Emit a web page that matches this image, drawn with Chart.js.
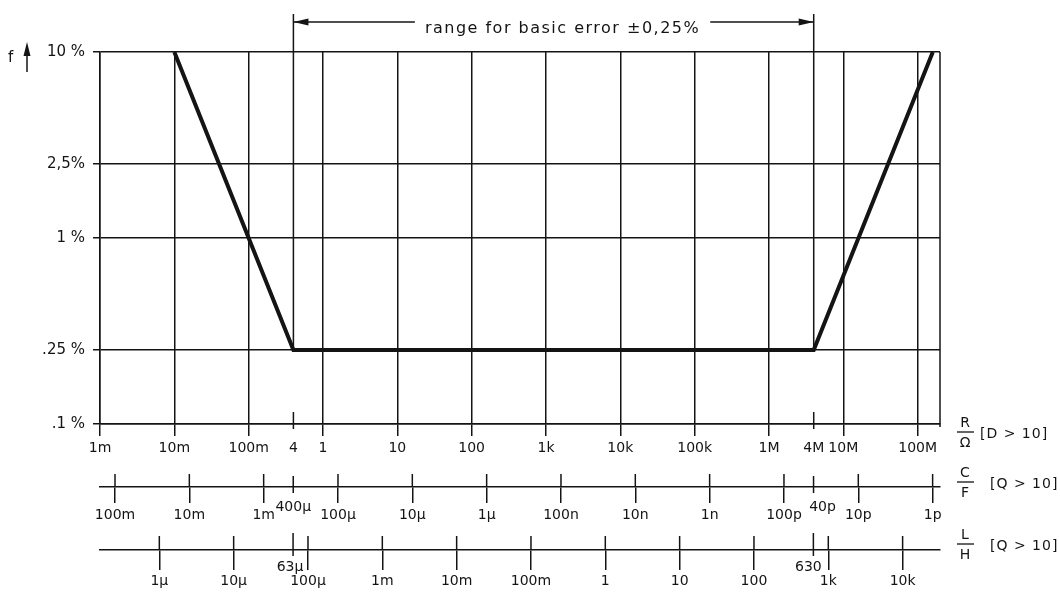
<!DOCTYPE html>
<html>
<head>
<meta charset="utf-8">
<script src="https://cdn.jsdelivr.net/npm/chart.js@4.4.1/dist/chart.umd.min.js"></script>
<style>
html,body{margin:0;padding:0;background:#fff;}
canvas{display:block;}
</style>
</head>
<body>
<canvas id="c" width="1060" height="592"></canvas>
<script>
// ---------- data ----------
const rTicks  = [1e-3, 1e-2, 1e-1, 0.4, 1, 10, 100, 1e3, 1e4, 1e5, 1e6, 4e6, 1e7, 1e8];
const rLabels = ['1m','10m','100m','4','1','10','100','1k','10k','100k','1M','4M','10M','100M'];
const cTicks  = [1e-1, 1e-2, 1e-3, 4e-4, 1e-4, 1e-5, 1e-6, 1e-7, 1e-8, 1e-9, 1e-10, 4e-11, 1e-11, 1e-12];
const cLabels = ['100m','10m','1m','400µ','100µ','10µ','1µ','100n','10n','1n','100p','40p','10p','1p'];
const lTicks  = [1e-6, 1e-5, 6.3e-5, 1e-4, 1e-3, 1e-2, 1e-1, 1, 10, 100, 630, 1e3, 1e4];
const lLabels = ['1µ','10µ','63µ','100µ','1m','10m','100m','1','10','100','630','1k','10k'];
const fTicks  = [10, 2.5, 1, 0.25, 0.1];
const fLabels = ['10 %','2,5%','1 %','.25 %','.1 %'];
const curveR  = [0.01, 0.4, 4e6, 1.6e8];
const curveF  = [10, 0.25, 0.25, 10];
const rangeR  = [0.4, 4e6];
const basicError = 0.25;
const rRange  = [1e-3, 2e8];
const fRange  = [0.1, 10];
const measFreqHz = 1000;
const title = 'range for basic error \u00B10,25%';
const axisUnits = [['R','\u03A9','[D > 10]'], ['C','F','[Q > 10]'], ['L','H','[Q > 10]']];

// ---------- style ----------
const INK = '#141414';
const FONT = '"DejaVu Sans", "Liberation Sans", sans-serif';
const omega = 2 * Math.PI * measFreqHz;
const isDecade = v => Math.abs(Math.log10(v) - Math.round(Math.log10(v))) < 1e-9;
const fixedTicks = values => scale => { scale.ticks = values.map(v => ({ value: v })); };
const decadeColor = ctx => (ctx.tick && isDecade(ctx.tick.value)) ? INK : 'rgba(0,0,0,0)';
const raisedDx = { '400µ': 0, '40p': 9, '63µ': -3, '630': -5 };

const overlay = {
  id: 'overlay',
  afterDraw(chart) {
    const ctx = chart.ctx, a = chart.chartArea;
    const sx = chart.scales.x, sy = chart.scales.y, sc = chart.scales.xC, sl = chart.scales.xL;
    ctx.save();
    ctx.strokeStyle = INK; ctx.fillStyle = INK; ctx.lineWidth = 1.5;
    const line = (x1, y1, x2, y2) => { ctx.beginPath(); ctx.moveTo(x1, y1); ctx.lineTo(x2, y2); ctx.stroke(); };
    const tri = (p) => { ctx.beginPath(); ctx.moveTo(p[0][0], p[0][1]); ctx.lineTo(p[1][0], p[1][1]); ctx.lineTo(p[2][0], p[2][1]); ctx.closePath(); ctx.fill(); };

    // right frame
    line(a.right, a.top, a.right, a.bottom + 3);

    // short ticks on R axis
    rTicks.filter(v => !isDecade(v)).forEach(v => {
      const x = sx.getPixelForValue(v);
      line(x, a.bottom - 12, x, a.bottom + 5);
    });

    // range boundaries + arrow
    const yKnee = sy.getPixelForValue(basicError);
    const xs = rangeR.map(v => sx.getPixelForValue(v));
    xs.forEach(x => line(x, 14, x, yKnee));
    const ay = 22;
    ctx.font = '16px ' + FONT;
    ctx.letterSpacing = '1.5px';
    const w = ctx.measureText(title).width;
    const cx = (xs[0] + xs[1]) / 2 + 9;
    const tl = cx - w / 2, tr = cx + w / 2;
    line(xs[0], ay, tl - 10, ay);
    line(tr + 10, ay, xs[1], ay);
    tri([[xs[0], ay], [xs[0] + 15, ay - 3.5], [xs[0] + 15, ay + 3.5]]);
    tri([[xs[1], ay], [xs[1] - 15, ay - 3.5], [xs[1] - 15, ay + 3.5]]);
    ctx.textAlign = 'left'; ctx.textBaseline = 'alphabetic';
    ctx.fillText(title, tl, 33);
    ctx.letterSpacing = '0px';

    // cross ticks on C and L axes
    const cross = (scale, values, labels, upMaj, upMin, downMin, labelDy) => {
      const y0 = scale.top;
      values.forEach((v, i) => {
        const x = scale.getPixelForValue(v);
        if (isDecade(v)) {
          line(x, y0 - upMaj, x, y0);
        } else {
          line(x, y0 - upMin, x, y0 + downMin);
          ctx.font = '14px ' + FONT;
          ctx.textAlign = 'center'; ctx.textBaseline = 'middle';
          ctx.fillText(labels[i], x + (raisedDx[labels[i]] || 0), y0 + labelDy);
        }
      });
    };
    cross(sc, cTicks, cLabels, 13, 11, 6, 20);
    cross(sl, lTicks, lLabels, 14, 17, 6, 17);

    // f arrow
    ctx.font = '15px ' + FONT;
    ctx.textAlign = 'left'; ctx.textBaseline = 'middle';
    ctx.fillText('f', 8, 58);
    line(27, 72, 27, 52);
    tri([[27, 42], [23.5, 56], [30.5, 56]]);

    // axis unit fractions
    const ux = a.right + 25;
    const rows = [[sx.top + 8, 980], [sc.top - 5, 990], [sl.top - 6, 990]];
    rows.forEach((r, i) => {
      const yl = r[0];
      ctx.lineWidth = 1.3;
      line(ux - 8, yl, ux + 9, yl);
      ctx.font = '14px ' + FONT;
      ctx.textAlign = 'center'; ctx.textBaseline = 'middle';
      ctx.fillText(axisUnits[i][0], ux, yl - 9);
      ctx.fillText(axisUnits[i][1], ux, yl + 11);
      ctx.textAlign = 'left';
      ctx.letterSpacing = '1px';
      ctx.fillText(axisUnits[i][2], r[1], yl + 2);
      ctx.letterSpacing = '0px';
    });
    ctx.restore();
  }
};

const tickFont = { family: FONT, size: 14 };

new Chart(document.getElementById('c'), {
  type: 'line',
  data: {
    datasets: [{
      data: curveR.map((r, i) => ({ x: r, y: curveF[i] })),
      borderColor: INK, borderWidth: 4, pointRadius: 0, tension: 0, fill: false,
      xAxisID: 'x', yAxisID: 'y'
    }]
  },
  options: {
    responsive: false, animation: false, devicePixelRatio: 1,
    layout: { padding: { top: 52, right: 120, bottom: 0, left: 0 } },
    plugins: { legend: { display: false }, tooltip: { enabled: false } },
    scales: {
      x: {
        type: 'logarithmic', position: 'bottom', weight: 0,
        min: rRange[0], max: rRange[1],
        afterBuildTicks: fixedTicks(rTicks),
        afterFit: s => { s.height = 63; },
        grid: { color: decadeColor, tickColor: decadeColor, lineWidth: 1.5, tickLength: 12 },
        border: { color: INK, width: 1.5 },
        ticks: { autoSkip: false, maxRotation: 0, minRotation: 0, padding: 4, color: INK, font: tickFont,
                 callback: (v, i) => rLabels[i] }
      },
      xC: {
        type: 'logarithmic', position: 'bottom', weight: 1, reverse: true,
        min: 1 / (omega * rRange[1]), max: 1 / (omega * rRange[0]),
        afterBuildTicks: fixedTicks(cTicks),
        afterFit: s => { s.height = 63; },
        grid: { drawOnChartArea: false, color: decadeColor, tickColor: decadeColor, lineWidth: 1.5, tickLength: 16 },
        border: { color: INK, width: 1.5 },
        ticks: { autoSkip: false, maxRotation: 0, minRotation: 0, padding: 4, color: INK, font: tickFont,
                 callback: (v, i) => isDecade(cTicks[i]) ? cLabels[i] : '' }
      },
      xL: {
        type: 'logarithmic', position: 'bottom', weight: 2,
        min: rRange[0] / omega, max: rRange[1] / omega,
        afterBuildTicks: fixedTicks(lTicks),
        afterFit: s => { s.height = 42; },
        grid: { drawOnChartArea: false, color: decadeColor, tickColor: decadeColor, lineWidth: 1.5, tickLength: 20 },
        border: { color: INK, width: 1.5 },
        ticks: { autoSkip: false, maxRotation: 0, minRotation: 0, padding: 3, color: INK, font: tickFont,
                 callback: (v, i) => isDecade(lTicks[i]) ? lLabels[i] : '' }
      },
      y: {
        type: 'logarithmic', position: 'left',
        min: fRange[0], max: fRange[1],
        afterBuildTicks: fixedTicks(fTicks),
        afterFit: s => { s.width = 100; },
        grid: { color: INK, lineWidth: 1.5, tickLength: 7 },
        border: { color: INK, width: 1.5 },
        ticks: { autoSkip: false, padding: 8, color: INK, font: { family: FONT, size: 15 },
                 callback: (v, i) => fLabels[i] }
      }
    }
  },
  plugins: [overlay]
});
</script>
</body>
</html>
